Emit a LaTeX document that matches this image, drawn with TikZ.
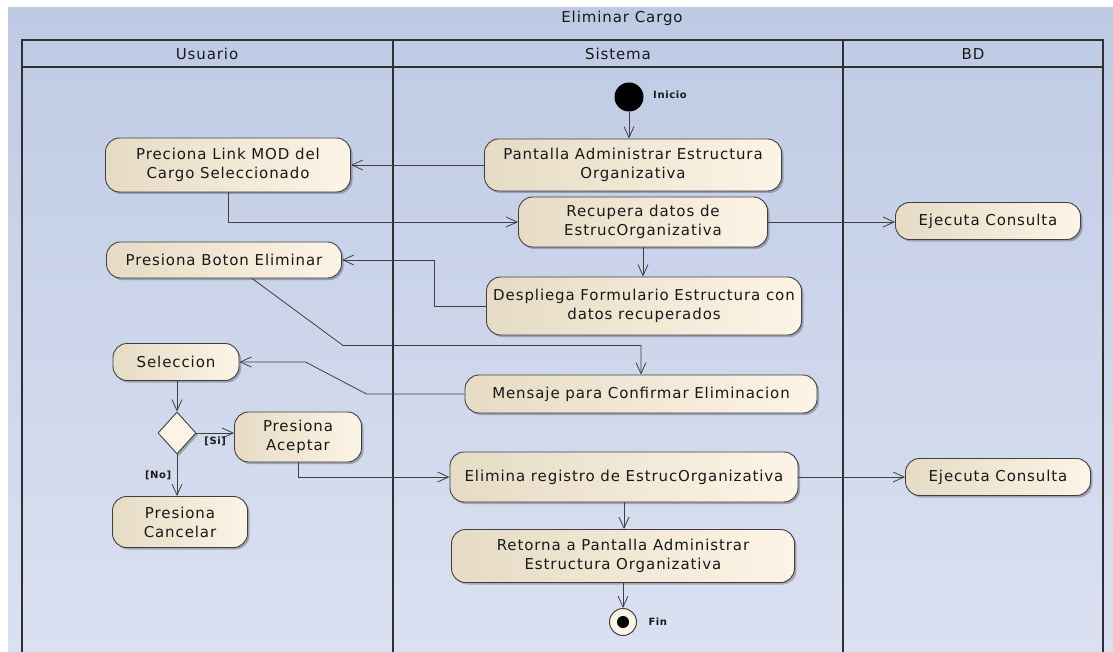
\documentclass[tikz,border=0pt]{standalone}
\usepackage{fontspec}
\setmainfont{DejaVu Sans}[LetterSpace=6]
\usepackage{tikz}
\usetikzlibrary{positioning, shapes.geometric, arrows.meta, shadows}
\definecolor{LaneBlueTop}{RGB}{190, 202, 228}
\definecolor{LaneBlueBottom}{RGB}{219, 225, 241}
\definecolor{ActTan}{RGB}{230, 219, 196}
\definecolor{ActCream}{RGB}{252, 244, 230}
\definecolor{EdgeGray}{RGB}{64, 64, 64}
\definecolor{FrameGray}{RGB}{48, 48, 48}

\tikzset{
  act/.style={draw=EdgeGray, line width=0.9pt, rounded corners=14pt,
    left color=ActTan, right color=ActCream, align=center, inner sep=2pt,
    font=\fontsize{15}{19}\selectfont, text=black!90,
    drop shadow={shadow xshift=2pt, shadow yshift=-2pt, fill=black, opacity=0.25}},
  lane/.style={font=\fontsize{15}{17}\selectfont, text=black!90},
  guard/.style={font=\fontsize{10}{11}\selectfont\bfseries, text=black!90},
  flow/.style={draw=EdgeGray, line width=0.8pt, -{Straight Barb[length=11pt, width=10pt]}},
}

\begin{document}
\begin{tikzpicture}[x=1pt, y=-1pt]
    \useasboundingbox (0,0) rectangle (1113,652);

    % Background
    \shade[top color=LaneBlueTop, bottom color=LaneBlueBottom] (8,8) rectangle (1113,652);

    % Title and swimlanes
    \node[lane] (title) at (622,18) {Eliminar Cargo};
    \draw[FrameGray, line width=1.2pt] (22,652) -- (22,40) -- (1103,40) -- (1103,652);
    \draw[FrameGray, line width=1.2pt] (22,67) -- (1103,67);
    \draw[FrameGray, line width=1.2pt] (393,40) -- (393,652);
    \draw[FrameGray, line width=1.2pt] (843,40) -- (843,652);
    \node[lane] (usuario) at (207,54) {Usuario};
    \node[lane] (sistema) at (618,54) {Sistema};
    \node[lane] (bd) at (973,54) {BD};

    % Initial node
    \node[circle, fill=black, minimum size=29pt, inner sep=0pt] (inicio) at (629,97) {};
    \node[guard, right=6pt of inicio, yshift=2pt] (inicioLbl) {Inicio};

    % Activities
    \node[act, minimum width=297pt, minimum height=52pt] (pantalla) at (633,165) {Pantalla Administrar Estructura\\Organizativa};
    \node[act, minimum width=245pt, minimum height=54pt] (link) at (228,165) {Preciona Link MOD del\\Cargo Seleccionado};
    \node[act, minimum width=249pt, minimum height=50pt] (recupera) at (643,222) {Recupera datos de\\EstrucOrganizativa};
    \node[act, minimum width=185pt, minimum height=37pt] (consulta1) at (988,221) {Ejecuta Consulta};
    \node[act, minimum width=235pt, minimum height=36pt] (boton) at (224,260) {Presiona Boton Eliminar};
    \node[act, minimum width=315pt, minimum height=58pt] (despliega) at (644,306) {Despliega Formulario Estructura con\\datos recuperados};
    \node[act, minimum width=352pt, minimum height=38pt] (mensaje) at (641,394) {Mensaje para Confirmar Eliminacion};
    \node[act, minimum width=126pt, minimum height=37pt] (seleccion) at (176,362) {Seleccion};
    \node[diamond, draw=EdgeGray, line width=0.9pt, fill=ActCream, minimum width=38pt, minimum height=42pt, inner sep=0pt,
      drop shadow={shadow xshift=2pt, shadow yshift=-2pt, fill=black, opacity=0.25}] (decision) at (177,433) {};
    \node[act, minimum width=127pt, minimum height=50pt] (aceptar) at (298,437) {Presiona\\Aceptar};
    \node[act, minimum width=135pt, minimum height=51pt] (cancelar) at (180,522) {Presiona\\Cancelar};
    \node[act, minimum width=348pt, minimum height=50pt] (elimina) at (624,477) {Elimina registro de EstrucOrganizativa};
    \node[act, minimum width=185pt, minimum height=37pt] (consulta2) at (998,477) {Ejecuta Consulta};
    \node[act, minimum width=343pt, minimum height=53pt] (retorna) at (623,556) {Retorna a Pantalla Administrar\\Estructura Organizativa};

    % Final node
    \node[circle, draw=EdgeGray, line width=1pt, fill=ActCream, minimum size=27pt, inner sep=0pt] (fin) at (623,622) {};
    \node[circle, fill=black, minimum size=12pt, inner sep=0pt] (finDot) at (fin) {};
    \node[guard, right=8pt of fin] (finLbl) {Fin};

    % Control flow
    \draw[flow] (inicio) -- (inicio |- pantalla.north);
    \draw[flow] (pantalla.west) -- (link.east);
    \draw[flow] (link.south) |- (recupera.west);
    \draw[flow] (recupera.east) -- (recupera.east -| consulta1.west);
    \draw[flow] (recupera.south) -- (recupera.south |- despliega.north);
    \draw[flow] (despliega.west) -- ++(-52,0) |- (boton.east);
    \draw[flow] ([xshift=28pt]boton.south) -- ++(91,67) -| (mensaje.north);
    \draw[flow] (mensaje.west) -- ++(-98,0) -- ([xshift=66pt]seleccion.east) -- (seleccion.east);
    \draw[flow] (decision.north |- seleccion.south) -- (decision.north);
    \draw[flow] (decision.east) -- (decision.east -| aceptar.west) node[guard, midway, below] {[Si]};
    \draw[flow] (decision.south) -- (decision.south |- cancelar.north) node[guard, midway, left=2pt] {[No]};
    \draw[flow] (aceptar.south) |- (elimina.west);
    \draw[flow] (elimina.east) -- (elimina.east -| consulta2.west);
    \draw[flow] (elimina.south) -- (elimina.south |- retorna.north);
    \draw[flow] (retorna.south) -- (retorna.south |- fin.north);
\end{tikzpicture}
\end{document}
